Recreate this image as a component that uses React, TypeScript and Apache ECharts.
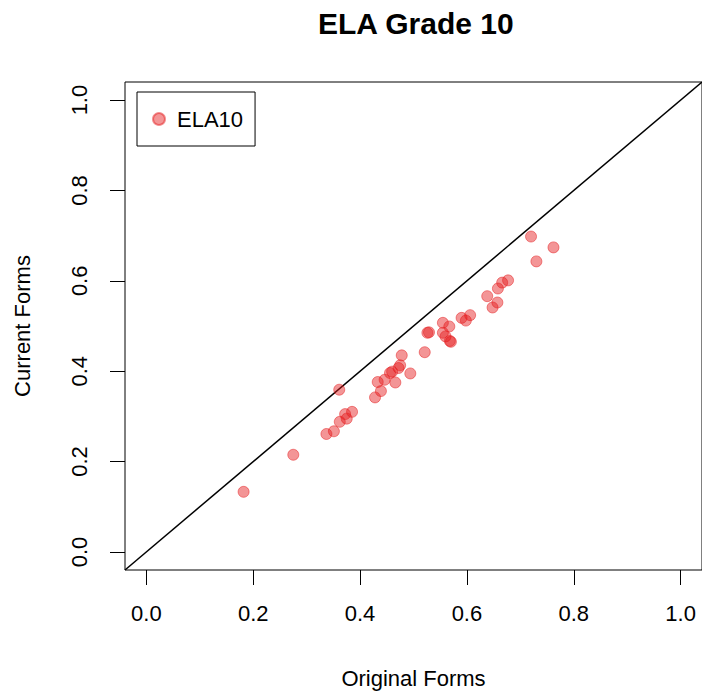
import React, { useEffect, useRef } from "react";
import * as echarts from "echarts";

const originalForms: number[] = [
  0.182, 0.275, 0.337, 0.351, 0.362, 0.375, 0.372, 0.385, 0.361, 0.428,
  0.439, 0.433, 0.446, 0.466, 0.456, 0.46, 0.472, 0.475, 0.478, 0.494,
  0.521, 0.526, 0.529, 0.555, 0.567, 0.555, 0.56, 0.568, 0.57, 0.59,
  0.598, 0.606, 0.638, 0.648, 0.657, 0.658, 0.666, 0.677, 0.72, 0.73, 0.762,
];
const currentForms: number[] = [
  0.133, 0.215, 0.261, 0.267, 0.288, 0.295, 0.305, 0.31, 0.359, 0.342,
  0.356, 0.376, 0.381, 0.375, 0.396, 0.399, 0.407, 0.413, 0.435, 0.395,
  0.442, 0.485, 0.486, 0.507, 0.499, 0.485, 0.477, 0.467, 0.465, 0.518,
  0.512, 0.524, 0.566, 0.541, 0.552, 0.583, 0.596, 0.601, 0.698, 0.643, 0.674,
];
const tickValues: number[] = [0, 0.2, 0.4, 0.6, 0.8, 1.0];
const refLine: number[][] = [
  [-0.04, -0.04],
  [1.04, 1.04],
];
const seriesName = "ELA10";
const titleText = "ELA Grade 10";
const xName = "Original Forms";
const yName = "Current Forms";

const FONT = "'Liberation Sans', Arial, Helvetica, sans-serif";

export default function App() {
  const ref = useRef<HTMLDivElement>(null);
  useEffect(() => {
    if (!ref.current) return;
    const chart = echarts.init(ref.current, undefined, { renderer: "svg" });
    const points = originalForms.map((x, i) => [x, currentForms[i]]);
    const axisCommon = {
      type: "value" as const,
      min: -0.04,
      max: 1.04,
      splitLine: { show: false },
      axisLine: { show: false, onZero: false },
      axisTick: {
        show: true,
        inside: false,
        length: 15,
        customValues: tickValues,
        lineStyle: { color: "#000", width: 1 },
      },
      axisLabel: {
        customValues: tickValues,
        formatter: (v: number) => v.toFixed(1),
        color: "#000",
        fontSize: 22,
        lineHeight: 22,
        fontFamily: FONT,
        margin: 32,
      },
      nameLocation: "middle" as const,
      nameTextStyle: { color: "#000", fontSize: 22, lineHeight: 22, fontFamily: FONT },
    };
    chart.setOption({
      animation: false,
      backgroundColor: "#fff",
      title: {
        text: titleText,
        left: 313,
        top: 3,
        textStyle: { fontSize: 30, fontWeight: "bold", color: "#000", fontFamily: FONT },
      },
      grid: {
        left: 125,
        top: 82,
        width: 580,
        height: 488,
        show: true,
        borderColor: "#000",
        borderWidth: 1,
        backgroundColor: "transparent",
      },
      legend: {
        data: [seriesName],
        left: 137,
        top: 92,
        orient: "vertical",
        itemWidth: 26,
        itemHeight: 12,
        padding: [16, 12, 16, 15],
        borderColor: "#000",
        borderWidth: 1,
        textStyle: { fontSize: 22, lineHeight: 22, color: "#000", fontFamily: FONT },
      },
      xAxis: { ...axisCommon, name: xName, nameGap: 97 },
      yAxis: {
        ...axisCommon,
        name: yName,
        nameGap: 92,
        axisLabel: { ...axisCommon.axisLabel, rotate: 90, margin: 35 },
      },
      series: [
        {
          type: "line",
          data: refLine,
          symbol: "none",
          silent: true,
          lineStyle: { color: "#000", width: 1.5 },
          z: 1,
        },
        {
          name: seriesName,
          type: "scatter",
          data: points,
          symbol: "circle",
          symbolSize: 11,
          itemStyle: {
            color: "rgba(228,26,28,0.58)",
            borderColor: "rgba(228,26,28,0.6)",
            borderWidth: 1,
          },
          z: 2,
        },
      ],
    });
    return () => chart.dispose();
  }, []);
  return (
    <div
      ref={ref}
      style={{ position: "absolute", left: 0, top: 0, width: 702, height: 696, overflow: "hidden" }}
    />
  );
}
